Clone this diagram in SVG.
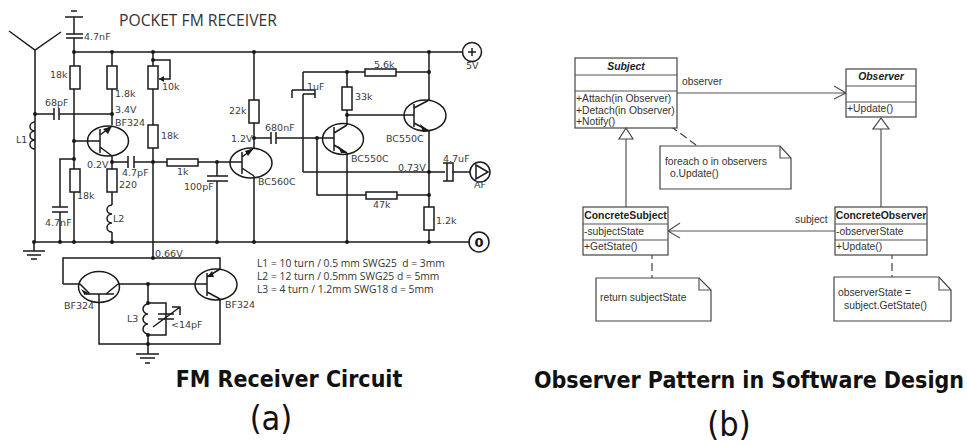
<svg xmlns="http://www.w3.org/2000/svg" width="967" height="443" viewBox="0 0 967 443">
<defs>
<style>
.w{fill:none;stroke:#1a1a1a;stroke-width:1.5}
.r{fill:#fff;stroke:#1a1a1a;stroke-width:1.5}
.d{fill:#1a1a1a;stroke:none}
.t{font-family:"DejaVu Sans",sans-serif;font-size:9.5px;fill:#3c3c3c}
.n{font-family:"Open Sans",sans-serif;font-size:10.3px;fill:#333}
.u{fill:#fff;stroke:#444;stroke-width:1.2}
.ul{fill:none;stroke:#555;stroke-width:1.2}
.ud{fill:none;stroke:#444;stroke-width:1.2;stroke-dasharray:8 4}
.ut{font-family:"Liberation Sans",Arial,sans-serif;font-size:10.3px;fill:#333}
.ub{font-family:"Liberation Sans",Arial,sans-serif;font-size:10.4px;font-weight:bold;fill:#222}
.cap{font-family:"DejaVu Sans",sans-serif;font-stretch:condensed;font-weight:bold;font-size:23px;fill:#111;text-anchor:middle}
.sub{font-family:"DejaVu Sans",sans-serif;font-stretch:condensed;font-size:34px;fill:#111;text-anchor:middle}
</style>
</defs>
<g id="connectors">
<path class="w" d="M9 31L35 50L61 32M35 50V242M74 17V34M74 38V52M74 52H463M74 52V242M74 159H60V207M60 212V242M112 52V114M35 114H54M59 114H112M35 114V122M35 149V242"/>
<path class="w" d="M34 242H470M34 242V251M23 251H45M27 255H41M31 259H37M65 17H83M71 11H77M153 52V258M112 114V125M112 156V205M112 232V242"/>
<path class="w" d="M153 60H170V79H159M74 141H100M112 162H128M134 162H167M198 162H242M217 162V176M217 181V242"/>
<path class="w" d="M254 52V148M254 176V242M254 138H271M276 138H334M303 72V90M303 94V172M303 72H428M429 52V100M429 131V242M347 72V115M347 115H414M347 115V125M347 153V242"/>
<path class="w" d="M303 172H445M452 172H470M317 138V195H429"/>
<path class="w" d="M63 284V258H220V269M63 284H80M118 284H207M99 294V344H220V299M148 284V304M148 335V354M136 354H159M140 358H155M145 363H150M148 303H166V335H148"/>
</g>
<g id="res-18k-a"><rect class="r" x="70" y="66" width="10" height="23"/></g>
<g id="res-1k8"><rect class="r" x="107" y="66" width="10" height="23"/></g>
<g id="pot-10k"><rect class="r" x="148" y="66" width="10" height="23"/></g>
<g id="res-18k-b"><rect class="r" x="148" y="125" width="10" height="23"/></g>
<g id="res-18k-c"><rect class="r" x="70" y="169" width="10" height="23"/></g>
<g id="res-220"><rect class="r" x="107" y="169" width="10" height="23"/></g>
<g id="res-1k"><rect class="r" x="167" y="159" width="31" height="7"/></g>
<g id="res-22k"><rect class="r" x="249" y="100" width="10" height="23"/></g>
<g id="res-33k"><rect class="r" x="342" y="87" width="10" height="23"/></g>
<g id="res-5k6"><rect class="r" x="365" y="69" width="31" height="7"/></g>
<g id="res-47k"><rect class="r" x="366" y="192" width="31" height="7"/></g>
<g id="res-1k2"><rect class="r" x="424" y="207" width="10" height="23"/></g>
<g id="caps">
<path class="w" d="M66 34H83M66 38H83M54 108V120M59 108V120M128 156V168M134 156V168M207 176H228M207 181H228M52 207H68M52 212H68M271 132V144M276 132V144M292 90H315M292 90V98M315 90V98M303 94H315M443 163H453V181H443M447 163V181"/>
</g>
<g id="coils">
<path class="w" d="M35 122a5 4.5 0 1 0 0 9a5 4.5 0 1 0 0 9a5 4.5 0 1 0 0 9"/>
<path class="w" d="M112 205a5 4.5 0 1 0 0 9a5 4.5 0 1 0 0 9a5 4.5 0 1 0 0 9"/>
<path class="w" d="M148 304a5 5 0 1 0 0 10a5 5 0 1 0 0 10a5 5 0 1 0 0 10"/>
<path class="w" d="M158 314H174M158 319H174"/>
<path class="w" d="M153 327L180 307M172 307H180V315"/>
</g>
<g id="q1"><ellipse class="w" cx="108" cy="141" rx="20.5" ry="15"/><path class="w" d="M100 129V153M100 135L112 126M100 147L112 156"/></g>
<g id="q2"><ellipse class="w" cx="251" cy="163" rx="21" ry="15"/><path class="w" d="M242 152V174M242 157L254 148M242 168L254 176"/></g>
<g id="q3"><ellipse class="w" cx="343" cy="139" rx="20.5" ry="15.5"/><path class="w" d="M334 127V151M334 133L347 125M334 145L347 153"/></g>
<g id="q4"><ellipse class="w" cx="425" cy="115.5" rx="21" ry="15.5"/><path class="w" d="M414 104V127M414 108L429 100M414 123L429 131"/></g>
<g id="q5"><ellipse class="w" cx="99" cy="287" rx="20.5" ry="15.5"/><path class="w" d="M84 294H114M80 284L90 294M118 284L106 294"/></g>
<g id="q6"><ellipse class="w" cx="216" cy="284.5" rx="21" ry="15.5"/><path class="w" d="M207 273V296M207 277L220 269M207 292L220 299"/></g>
<g id="arrows">
<path class="d" d="M112 126L103 129L108 134zM254 148L245 151L248 156zM347 153L338 146L341 153zM429 131L420 124L423 132zM90 294L81 289L84 294zM207 277L214 277L212 271z"/>
<path class="d" d="M159 79L164 76V82z"/>
</g>
<g id="dots">
<circle class="d" cx="74" cy="52" r="2"/><circle class="d" cx="112" cy="52" r="2"/><circle class="d" cx="153" cy="52" r="2"/><circle class="d" cx="254" cy="52" r="2"/><circle class="d" cx="429" cy="52" r="2"/>
<circle class="d" cx="153" cy="60" r="2"/><circle class="d" cx="35" cy="114" r="2"/><circle class="d" cx="112" cy="114" r="2"/><circle class="d" cx="74" cy="141" r="2"/><circle class="d" cx="74" cy="159" r="2"/><circle class="d" cx="112" cy="162" r="2"/><circle class="d" cx="153" cy="162" r="2"/><circle class="d" cx="217" cy="162" r="2"/><circle class="d" cx="254" cy="138" r="2"/><circle class="d" cx="317" cy="138" r="2"/><circle class="d" cx="347" cy="72" r="2"/><circle class="d" cx="429" cy="72" r="2"/><circle class="d" cx="347" cy="115" r="2"/><circle class="d" cx="429" cy="172" r="2"/><circle class="d" cx="429" cy="195" r="2"/>
<circle class="d" cx="34" cy="242" r="2"/><circle class="d" cx="60" cy="242" r="2"/><circle class="d" cx="74" cy="242" r="2"/><circle class="d" cx="112" cy="242" r="2"/><circle class="d" cx="217" cy="242" r="2"/><circle class="d" cx="254" cy="242" r="2"/><circle class="d" cx="347" cy="242" r="2"/><circle class="d" cx="429" cy="242" r="2"/>
<circle class="d" cx="153" cy="258" r="2"/><circle class="d" cx="148" cy="284" r="2"/><circle class="d" cx="148" cy="303" r="2"/><circle class="d" cx="148" cy="335" r="2"/><circle class="d" cx="148" cy="344" r="2"/>
</g>
<g id="term-plus"><circle class="w" cx="472" cy="52" r="9.5"/><path class="w" d="M468 52H476M472 48V56"/></g>
<g id="term-zero"><circle class="w" cx="479" cy="242" r="10"/><text x="479" y="247" text-anchor="middle" style="font-family:'DejaVu Sans',sans-serif;font-size:13px;font-weight:bold;fill:#111">0</text></g>
<g id="term-af"><circle class="w" cx="480" cy="172" r="10"/><path class="w" d="M476 165L488 172L476 179z"/></g>
<g id="circuit-labels">
<text x="119" y="26" style="font-family:'Open Sans',sans-serif;font-size:15.7px;fill:#333">POCKET FM RECEIVER</text>
<text class="t" x="84" y="40">4.7nF</text>
<text class="t" x="50" y="78">18k</text>
<text class="t" x="115" y="97">1.8k</text>
<text class="t" x="115" y="113">3.4V</text>
<text class="t" x="115" y="126">BF324</text>
<text class="t" x="45" y="106">68pF</text>
<text class="t" x="16" y="143">L1</text>
<text class="t" x="162" y="90">10k</text>
<text class="t" x="161" y="139">18k</text>
<text class="t" x="87" y="168">0.2V</text>
<text class="t" x="122" y="176">4.7pF</text>
<text class="t" x="119" y="188">220</text>
<text class="t" x="77" y="199">18k</text>
<text class="t" x="113" y="222">L2</text>
<text class="t" x="45" y="226">4.7nF</text>
<text class="t" x="177" y="175">1k</text>
<text class="t" x="184" y="190">100pF</text>
<text class="t" x="229" y="114">22k</text>
<text class="t" x="231" y="142">1.2V</text>
<text class="t" x="265" y="131">680nF</text>
<text class="t" x="307" y="90">1uF</text>
<text class="t" x="374" y="68">5.6k</text>
<text class="t" x="355" y="100">33k</text>
<text class="t" x="386" y="142">BC550C</text>
<text class="t" x="351" y="162">BC550C</text>
<text class="t" x="258" y="185">BC560C</text>
<text class="t" x="398" y="171">0.73V</text>
<text class="t" x="443" y="162">4.7uF</text>
<text class="t" x="373" y="208">47k</text>
<text class="t" x="436" y="224">1.2k</text>
<text class="t" x="466" y="69">5V</text>
<text class="t" x="474" y="188">AF</text>
<text class="t" x="155" y="257">0.66V</text>
<text class="t" x="127" y="322">L3</text>
<text class="t" x="64" y="309">BF324</text>
<text class="t" x="225" y="308">BF324</text>
<text class="t" x="171" y="328">&lt;14pF</text>
<text class="n" x="257" y="267" xml:space="preserve">L1 = 10 turn / 0.5 mm SWG25  d = 3mm</text>
<text class="n" x="257" y="280">L2 = 12 turn / 0.5mm SWG25 d = 5mm</text>
<text class="n" x="257" y="293">L3 = 4 turn / 1.2mm SWG18 d = 5mm</text>
</g>
<g id="uml-connectors">
<path class="ul" d="M677 93H846M834 86L846 93L834 99M626 139V208M881 129V208M668 231H835M680 223L668 231L680 238"/>
<path class="ud" d="M661 119L696 145M652 251V278M892 251V277"/>
</g>
<g id="subject"><rect class="u" x="575" y="58" width="102" height="70"/><path class="ul" d="M575 75H677M575 91H677"/>
<text class="ub" x="626" y="70" text-anchor="middle" font-style="italic">Subject</text>
<text class="ut" x="576" y="102">+Attach(in Observer)</text><text class="ut" x="576" y="114">+Detach(in Observer)</text><text class="ut" x="576" y="125">+Notify()</text>
<path class="u" d="M626 128L619 139H633z"/></g>
<g id="observer"><rect class="u" x="846" y="69" width="70" height="48"/><path class="ul" d="M846 86H916M846 102H916"/>
<text class="ub" x="881" y="80" text-anchor="middle" font-style="italic">Observer</text>
<text class="ut" x="847" y="112">+Update()</text>
<path class="u" d="M881 118L873 129H889z"/></g>
<g id="concrete-subject"><rect class="u" x="583" y="207" width="85" height="48"/><path class="ul" d="M583 224H668M583 240H668"/>
<text class="ub" x="625.5" y="219" text-anchor="middle">ConcreteSubject</text>
<text class="ut" x="584" y="235">-subjectState</text><text class="ut" x="584" y="250">+GetState()</text></g>
<g id="concrete-observer"><rect class="u" x="835" y="207" width="92" height="48"/><path class="ul" d="M835 224H927M835 240H927"/>
<text class="ub" x="881" y="219" text-anchor="middle">ConcreteObserver</text>
<text class="ut" x="836" y="235">-observerState</text><text class="ut" x="836" y="250">+Update()</text></g>
<g id="note-foreach"><path class="u" d="M660 146H780L791 158V189H660z"/><path class="ul" d="M780 146V158H791"/>
<text class="ut" x="665" y="165">foreach o in observers</text><text class="ut" x="670" y="177">o.Update()</text></g>
<g id="note-return"><path class="u" d="M596 278H699L711 290V321H596z"/><path class="ul" d="M699 278V290H711"/>
<text class="ut" x="600" y="301">return subjectState</text></g>
<g id="note-state"><path class="u" d="M834 277H939L951 290V321H834z"/><path class="ul" d="M939 277V290H951"/>
<text class="ut" x="838" y="296">observerState =</text><text class="ut" x="844" y="309">subject.GetState()</text></g>
<g id="uml-labels"><text class="ut" x="682" y="85">observer</text><text class="ut" x="795" y="223">subject</text></g>
<g id="captions">
<text class="cap" x="289" y="387">FM Receiver Circuit</text>
<text class="cap" x="749" y="388">Observer Pattern in Software Design</text>
<text class="sub" x="271" y="430">(a)</text>
<text class="sub" x="729" y="436">(b)</text>
</g>
</svg>
